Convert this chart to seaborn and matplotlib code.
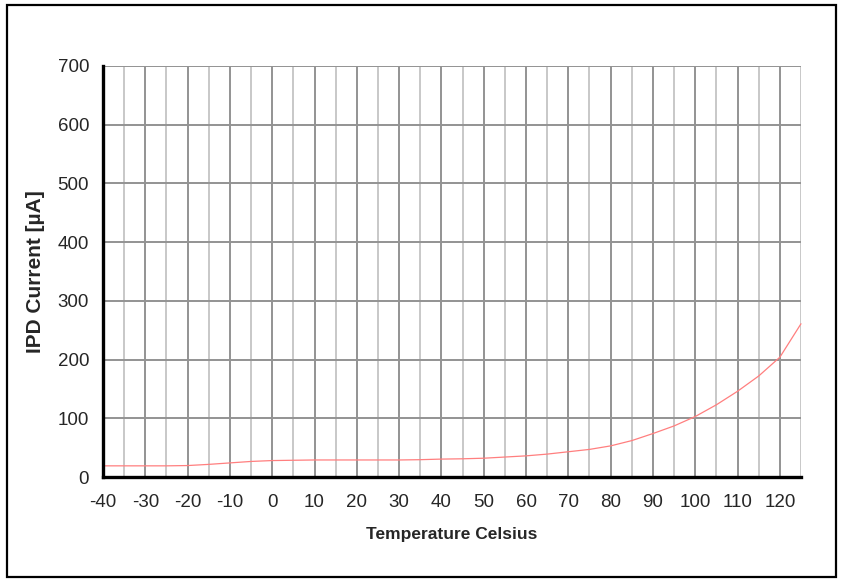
import matplotlib
matplotlib.use("Agg")
import matplotlib.pyplot as plt
from matplotlib.patches import Rectangle
from matplotlib.ticker import MultipleLocator
import numpy as np
import pandas as pd
import seaborn as sns

# IPD current measured against temperature (5 degree steps)
temperature_c = [-40, -35, -30, -25, -20, -15, -10, -5, 0, 5, 10, 15, 20, 25,
                 30, 35, 40, 45, 50, 55, 60, 65, 70, 75, 80, 85, 90, 95, 100,
                 105, 110, 115, 120, 125]
ipd_current_ua = [19, 19, 19, 19, 19.5, 21.5, 24, 26.5, 28, 28.5, 29, 29, 29,
                  29, 29, 29.5, 30.5, 31, 32, 34, 36, 39, 43, 47, 53, 62, 74,
                  87, 103, 123, 146, 172, 204, 261]

x_ticks = list(range(-40, 121, 10))
y_ticks = list(range(0, 701, 100))

df = pd.DataFrame({"Temperature": temperature_c, "IPD": ipd_current_ua})

sns.set_style("white")
plt.rcParams["font.family"] = ["Liberation Sans", "DejaVu Sans"]
plt.rcParams["axes.unicode_minus"] = False

W, H = 842, 579
fig = plt.figure(figsize=(W / 100, H / 100), dpi=100)
ax = fig.add_axes([103 / W, 1 - 477 / H, (801 - 103) / W, (477 - 66) / H])

# outer frame around the whole chart
fig.patches.append(Rectangle((7 / W, 2 / H), (836 - 7) / W, (576 - 4) / H,
                             transform=fig.transFigure, fill=False,
                             edgecolor="black", linewidth=1.6, zorder=0))

ax.set_xlim(-40, 125)
ax.set_ylim(0, 700)
ax.xaxis.set_minor_locator(MultipleLocator(5))
ax.set_xticks(x_ticks)
ax.set_yticks(y_ticks)

ax.grid(False)
ax.set_axisbelow(True)
for v in np.arange(-35, 126, 5):
    major = (v % 10 == 0)
    ax.axvline(v, color="#939393" if major else "#c8c8c8", lw=1.4, zorder=0)
for v in y_ticks[1:]:
    ax.axhline(v, color="#939393", lw=1.4, zorder=0)

sns.lineplot(data=df, x="Temperature", y="IPD", ax=ax, color="#ff7f7f",
             linewidth=0.9, clip_on=False, zorder=3)

for side in ("top", "right"):
    ax.spines[side].set_visible(False)
for side in ("left", "bottom"):
    ax.spines[side].set_linewidth(2.4)
    ax.spines[side].set_color("black")
    ax.spines[side].set_zorder(4)

ax.tick_params(axis="both", which="major", direction="out", length=4,
               width=1.8, color="black", labelsize=13.5, pad=6)
ax.tick_params(axis="x", which="minor", length=0)
ax.tick_params(axis="x", pad=8)

ax.set_xlabel("Temperature Celsius", fontsize=12.5, fontweight="bold",
              labelpad=12)
ax.set_ylabel("IPD Current [µA]", fontsize=15, fontweight="bold")
ax.yaxis.set_label_coords(-0.083, 0.5)

fig.savefig("out.png", dpi=100)
